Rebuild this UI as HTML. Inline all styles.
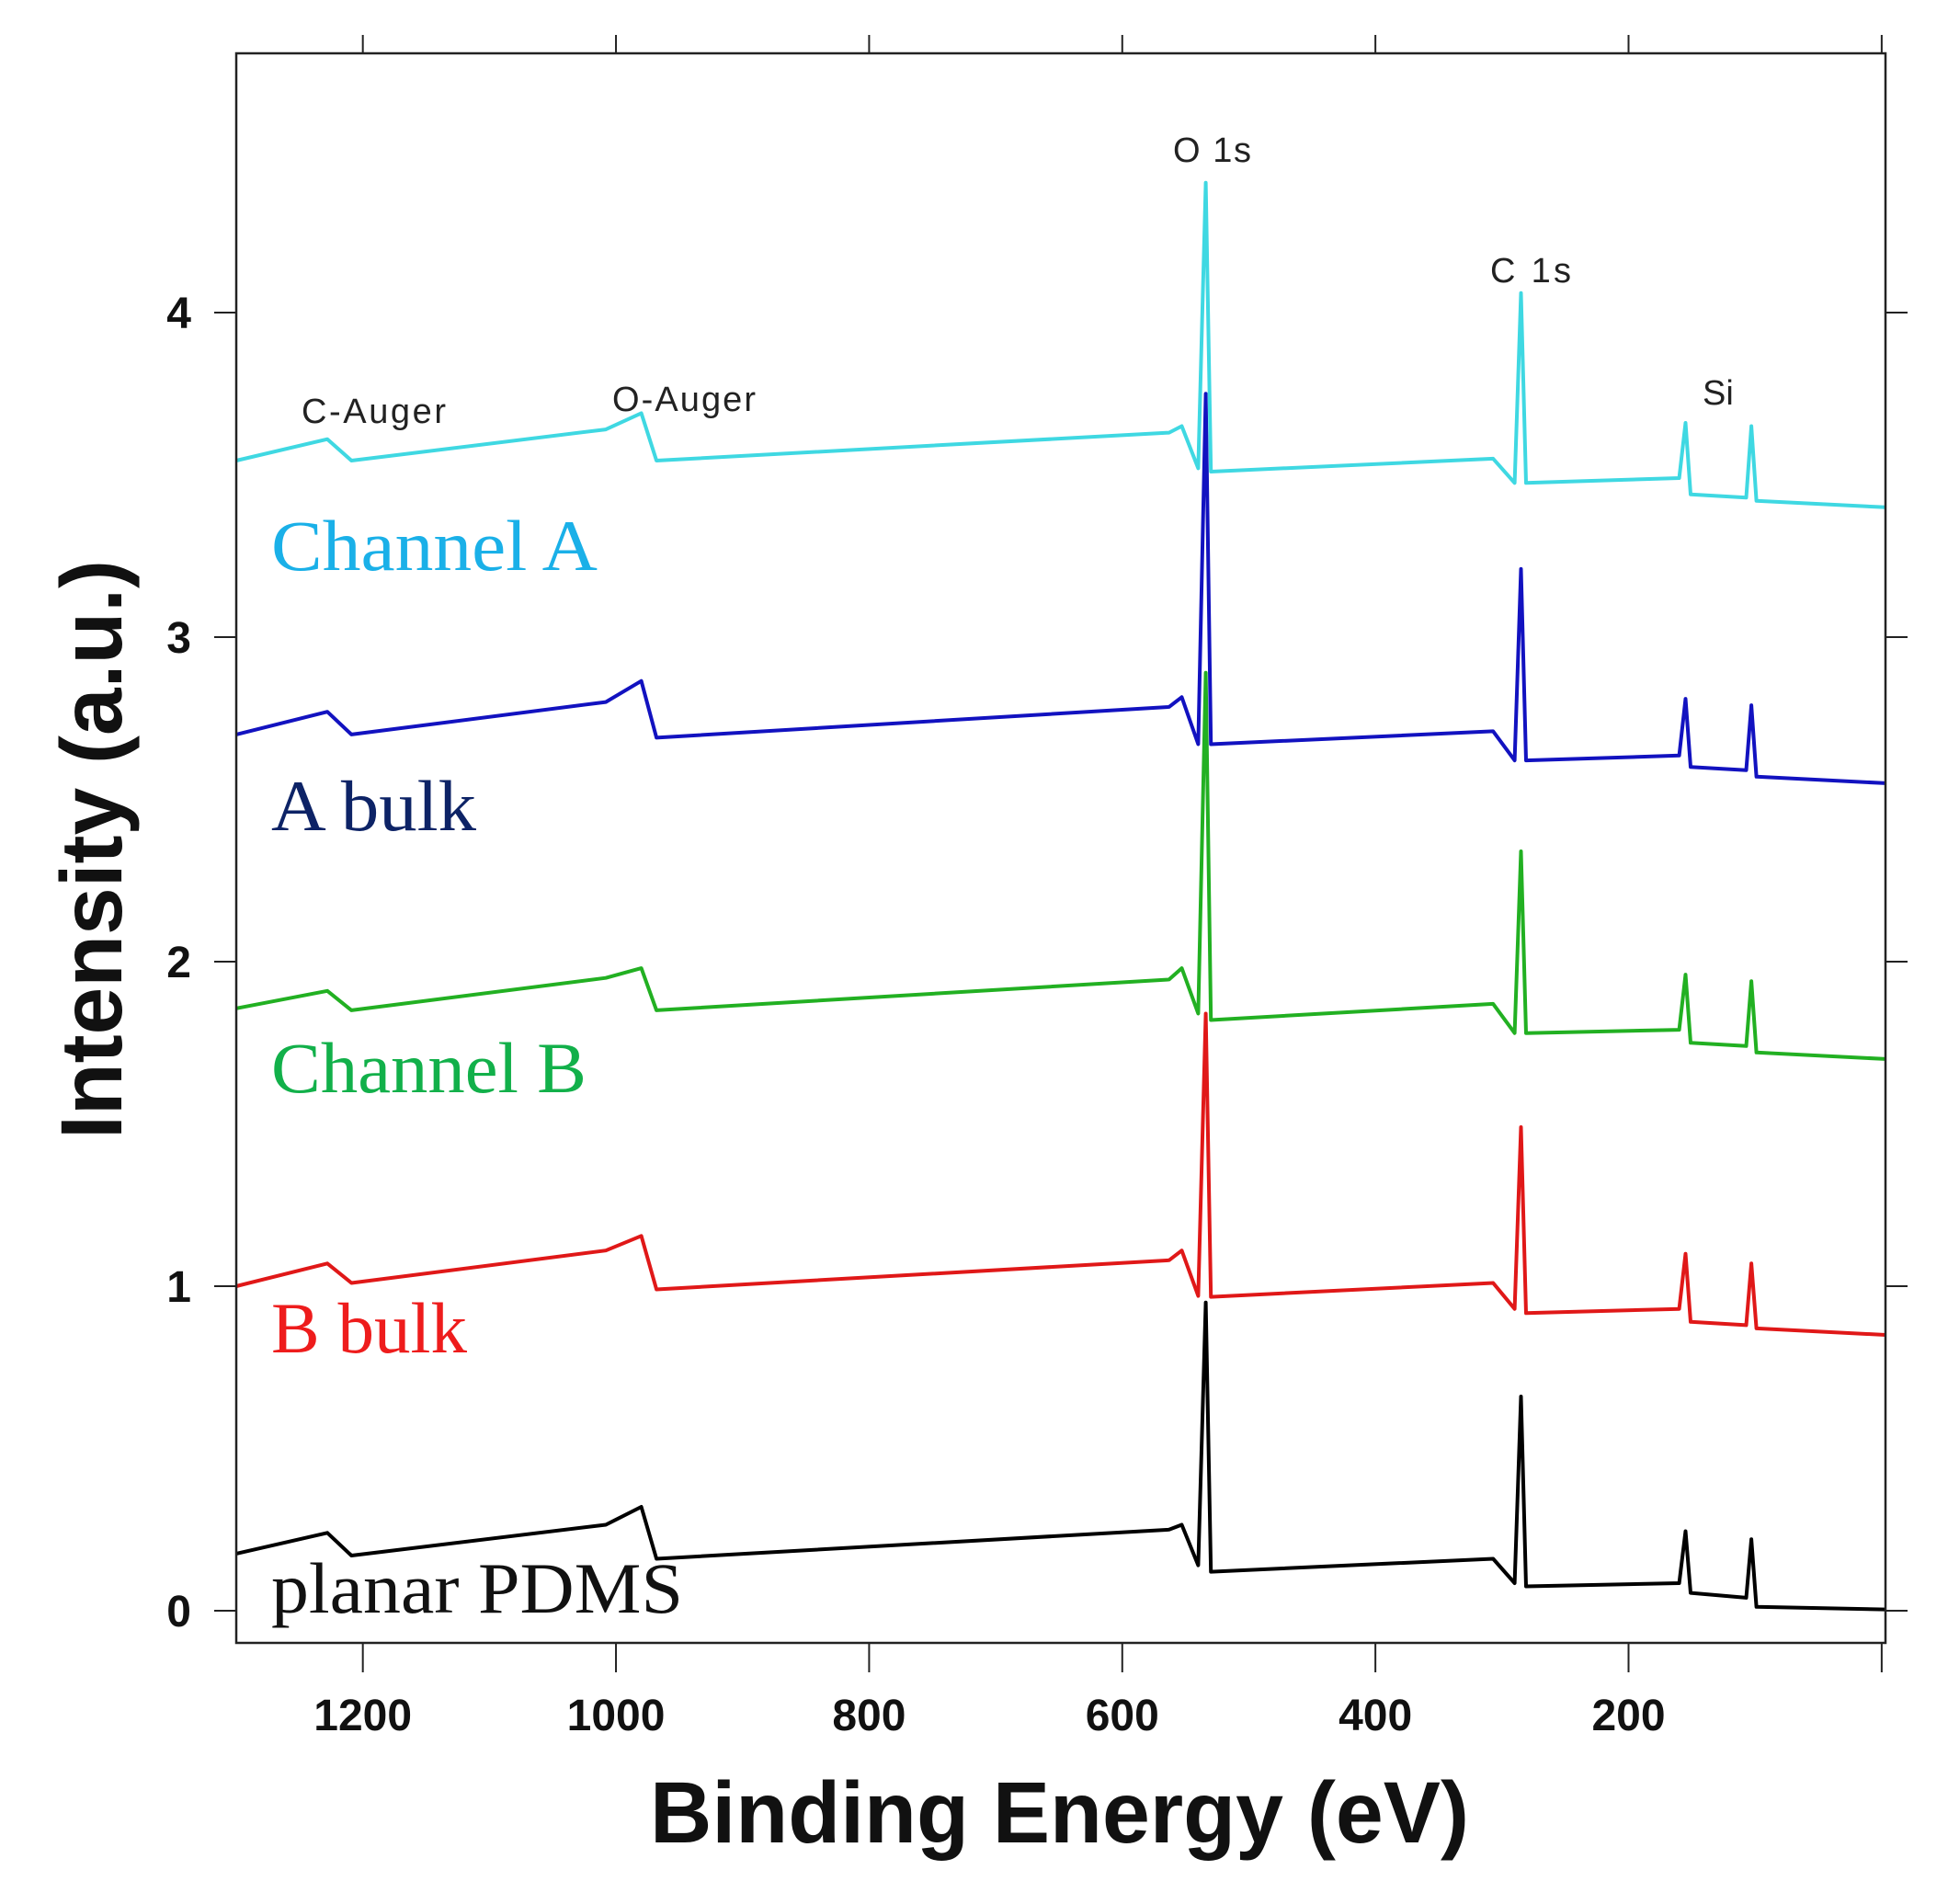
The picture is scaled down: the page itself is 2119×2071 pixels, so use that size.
<!DOCTYPE html>
<html><head><meta charset="utf-8"><style>
html,body{margin:0;padding:0;background:#fff;}
svg{display:block;}
</style></head><body>
<svg id="chart" width="2119" height="2071" viewBox="0 0 2119 2071" xmlns="http://www.w3.org/2000/svg" font-family="Liberation Sans, sans-serif">
<rect x="0" y="0" width="2119" height="2071" fill="#fff"/>
<g id="series"></g>
<rect x="257" y="58" width="1794" height="1729" fill="none" stroke="#222" stroke-width="2.5"/>
<g id="axes"></g>
<g font-size="38" fill="#222">
<text x="1276" y="176" textLength="85">O 1s</text>
<text x="1621" y="307" textLength="88">C 1s</text>
<text x="1852" y="440">Si</text>
<text x="328" y="460" textLength="157">C-Auger</text>
<text x="666" y="447" textLength="156">O-Auger</text>
</g>
<g font-family="Liberation Serif, serif" font-size="78">
<text x="295" y="620" textLength="355" lengthAdjust="spacingAndGlyphs" fill="#1ab0e8">Channel A</text>
<text x="295" y="903" textLength="223" lengthAdjust="spacingAndGlyphs" fill="#0d2366">A bulk</text>
<text x="295" y="1188" textLength="343" lengthAdjust="spacingAndGlyphs" fill="#12b04a">Channel B</text>
<text x="295" y="1471" textLength="213" lengthAdjust="spacingAndGlyphs" fill="#ee1c1c">B bulk</text>
<text x="295" y="1754" textLength="448" lengthAdjust="spacingAndGlyphs" fill="#111">planar PDMS</text>
</g>
<text x="707" y="2004" font-size="95" font-weight="bold" textLength="891" lengthAdjust="spacingAndGlyphs" fill="#111">Binding Energy (eV)</text>
<text transform="translate(132,1239) rotate(-90)" font-size="95" font-weight="bold" textLength="630" lengthAdjust="spacingAndGlyphs" fill="#111">Intensity (a.u.)</text>
</svg>
<script>
const energies = [1300,1228,1209,1008,980,968,563,553,540,534,530,307,290,285,281,160,155,151,107,103,99,-3];
const planarPDMS = [0.176,0.24,0.17,0.265,0.32,0.16,0.25,0.265,0.14,0.95,0.12,0.16,0.085,0.66,0.075,0.085,0.245,0.055,0.04,0.22,0.012,0.004];
const bBulk = [1.0,1.07,1.01,1.11,1.155,0.99,1.08,1.11,0.97,1.84,0.967,1.01,0.93,1.49,0.917,0.93,1.10,0.89,0.88,1.07,0.87,0.85];
const channelB = [1.856,1.91,1.85,1.95,1.98,1.85,1.945,1.98,1.84,2.89,1.82,1.87,1.78,2.34,1.78,1.79,1.96,1.75,1.74,1.94,1.72,1.70];
const aBulk = [2.70,2.77,2.70,2.80,2.865,2.69,2.785,2.815,2.67,3.75,2.67,2.71,2.62,3.21,2.62,2.635,2.81,2.60,2.59,2.79,2.57,2.55];
const channelA = [3.544,3.61,3.544,3.64,3.69,3.544,3.63,3.65,3.52,4.40,3.51,3.55,3.475,4.06,3.475,3.49,3.66,3.44,3.43,3.65,3.42,3.40];
const xTicks = [1200,1000,800,600,400,200,0];
const xTickLabels = ["1200","1000","800","600","400","200",""];
const yTicks = [0,1,2,3,4];
const yTickLabels = ["0","1","2","3","4"];

const NS = "http://www.w3.org/2000/svg";
const X0=257, X1=2051, Y0=58, Y1=1787;
function xScale(e){ return X0 + (1300 - e) / (1300 - (-3)) * (X1 - X0); }
function yScale(v){ return 1752 - 353 * v; }

const seriesG = document.getElementById('series');
const seriesList = [
  {name:'line-planar-pdms', vals: planarPDMS, color:'#000'},
  {name:'line-b-bulk', vals: bBulk, color:'#e01818'},
  {name:'line-channel-b', vals: channelB, color:'#22b022'},
  {name:'line-a-bulk', vals: aBulk, color:'#1212c0'},
  {name:'line-channel-a', vals: channelA, color:'#3fd8e2'}
];
seriesList.forEach(s => {
  const p = document.createElementNS(NS,'path');
  let d = '';
  energies.forEach((e,i) => { d += (i?'L':'M') + xScale(e).toFixed(1) + ' ' + yScale(s.vals[i]).toFixed(1) + ' '; });
  p.setAttribute('d', d);
  p.setAttribute('fill','none');
  p.setAttribute('stroke', s.color);
  p.setAttribute('stroke-width','4');
  p.setAttribute('stroke-linejoin','round');
  
  
  seriesG.appendChild(p);
});

const axesG = document.getElementById('axes');
function line(x1,y1,x2,y2,name){
  const l = document.createElementNS(NS,'line');
  l.setAttribute('x1',x1); l.setAttribute('y1',y1); l.setAttribute('x2',x2); l.setAttribute('y2',y2);
  l.setAttribute('stroke','#222'); l.setAttribute('stroke-width','2');
  
  
  axesG.appendChild(l);
}
function text(x,y,str,anchor,name){
  const t = document.createElementNS(NS,'text');
  t.setAttribute('x',x); t.setAttribute('y',y);
  t.setAttribute('text-anchor',anchor);
  t.setAttribute('font-size','48'); t.setAttribute('font-weight','bold'); t.setAttribute('fill','#111');
  t.textContent = str;
  
  
  axesG.appendChild(t);
}
xTicks.forEach((e,i) => {
  const x = xScale(e);
  line(x, Y1, x, Y1+32, 'x-tick');
  line(x, Y0, x, Y0-20, 'x-tick-top');
  if (xTickLabels[i]) text(x, 1882, xTickLabels[i], 'middle', 'x-tick-label');
});
yTicks.forEach((v,i) => {
  const y = yScale(v);
  line(X0-24, y, X0, y, 'y-tick');
  line(X1, y, X1+24, y, 'y-tick-right');
  text(208, y+17, yTickLabels[i], 'end', 'y-tick-label');
});
</script>
</body></html>
